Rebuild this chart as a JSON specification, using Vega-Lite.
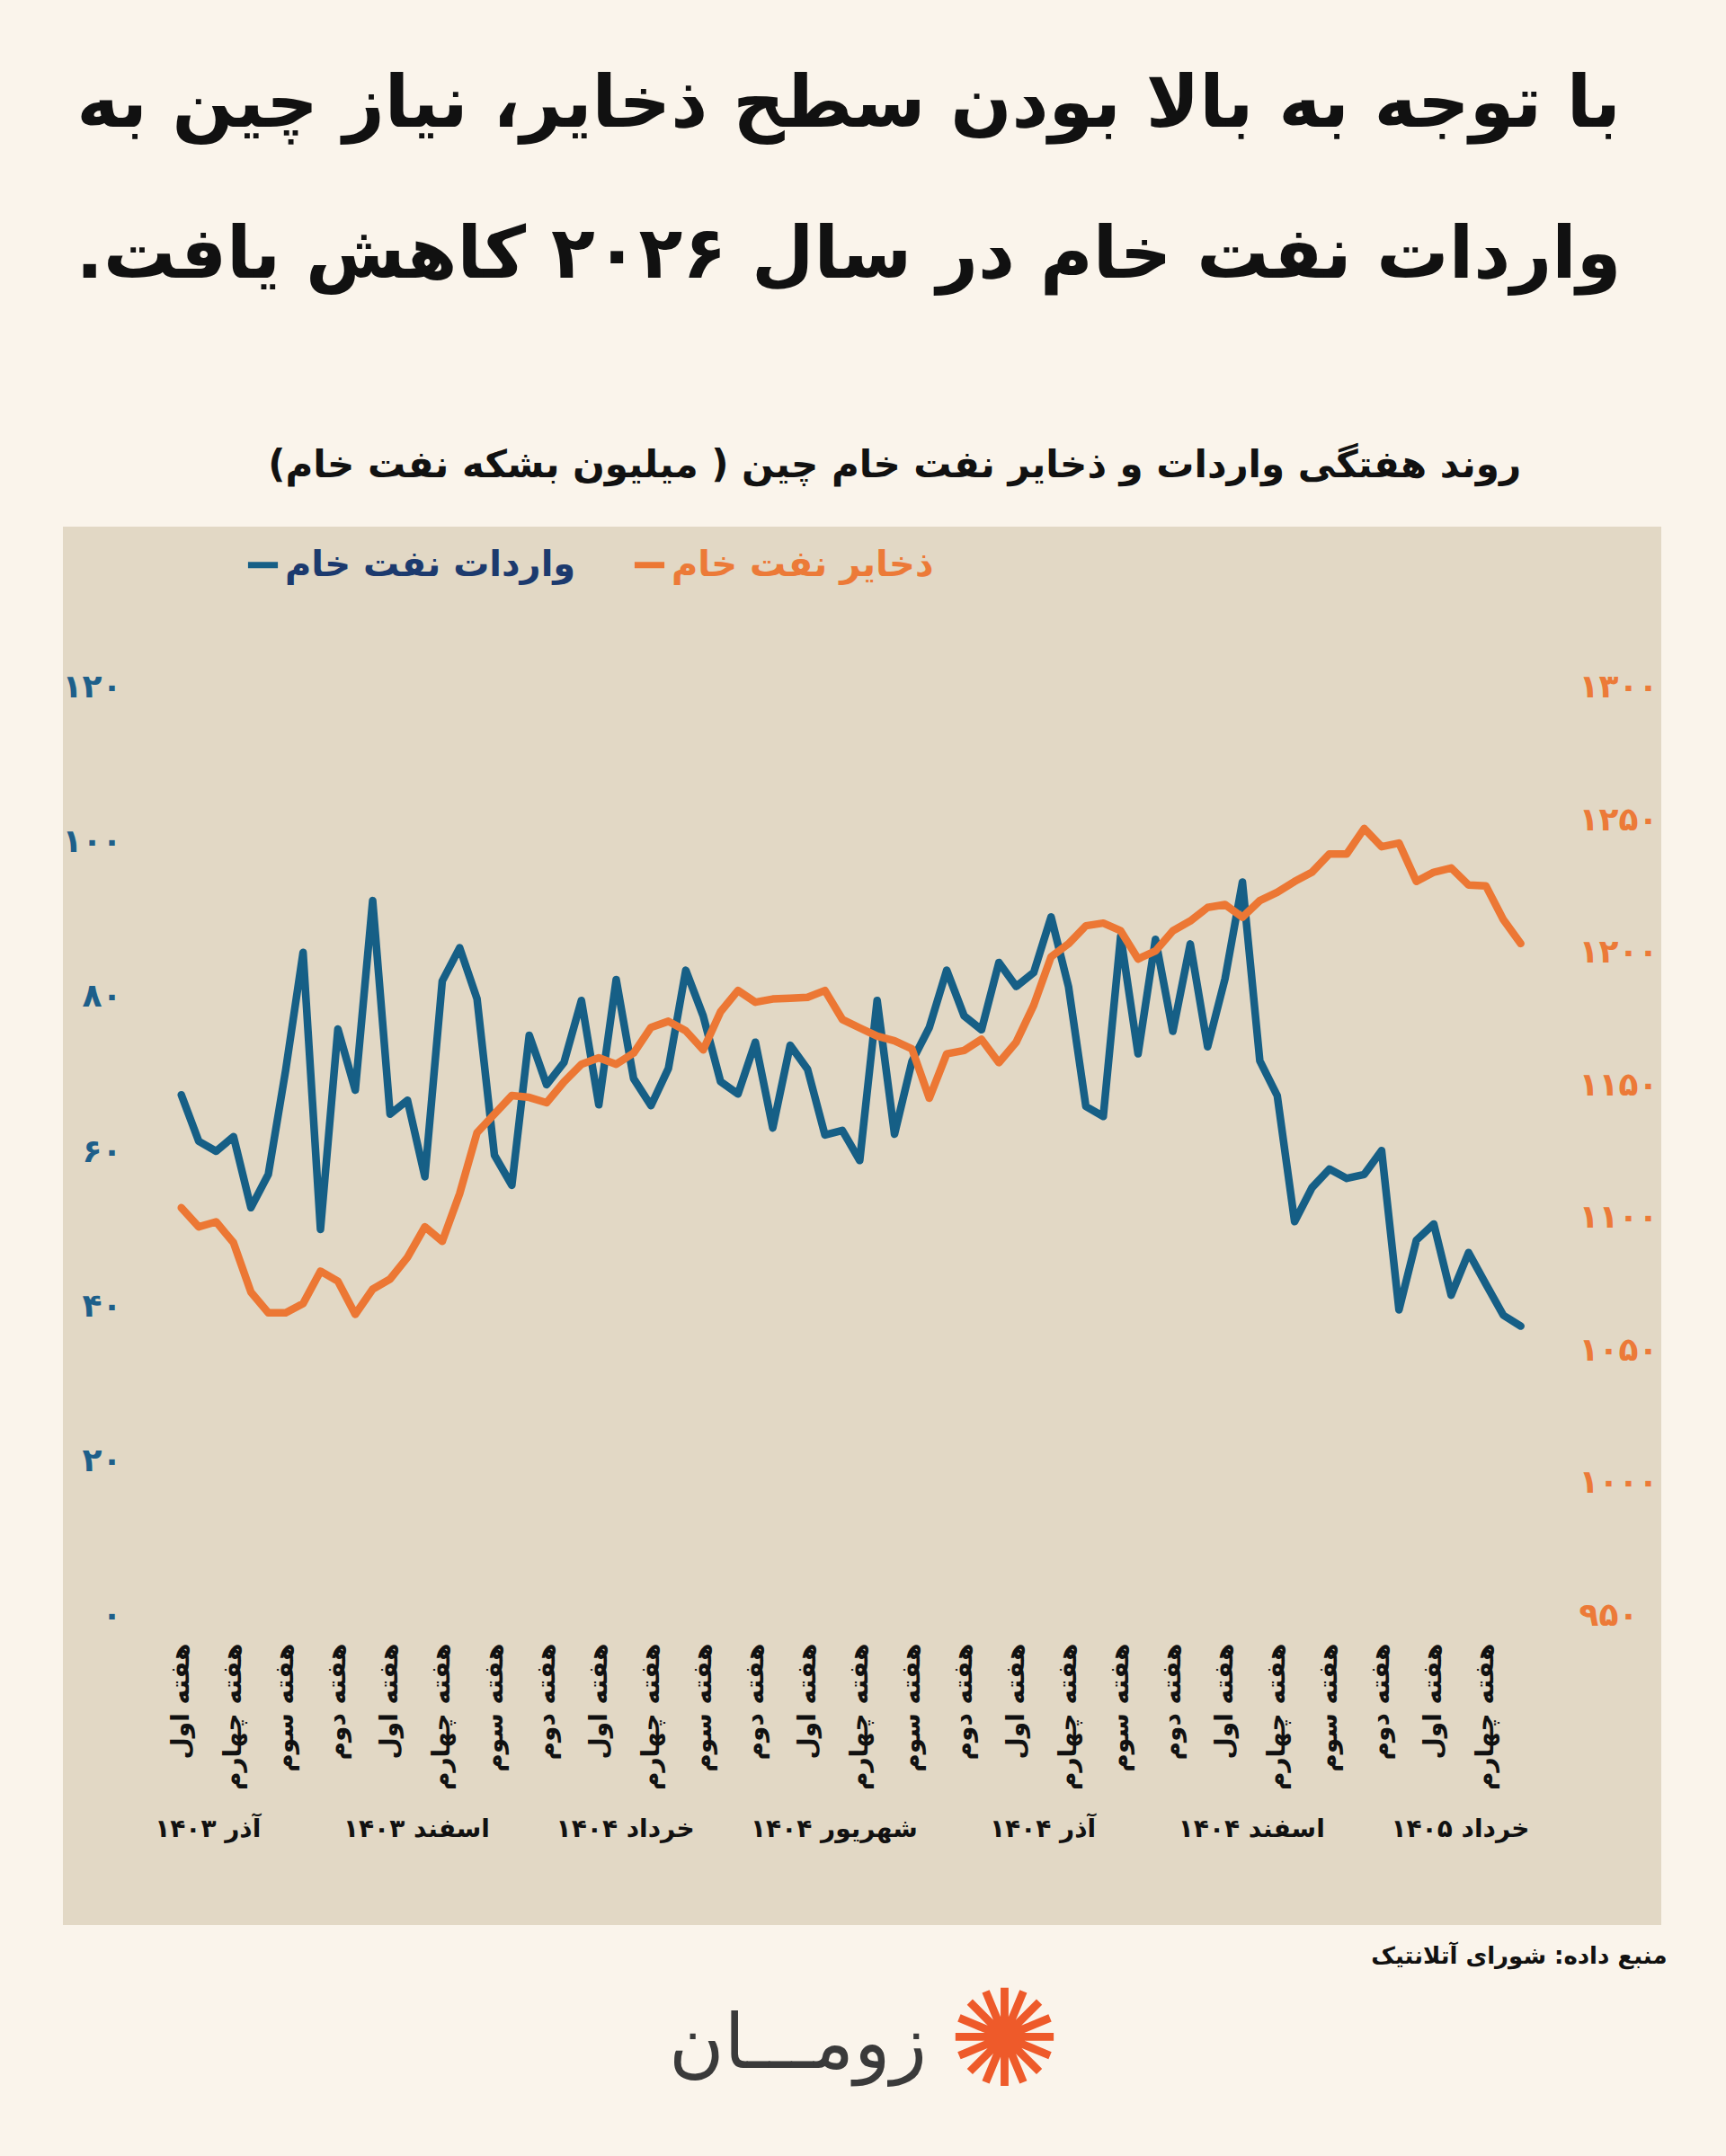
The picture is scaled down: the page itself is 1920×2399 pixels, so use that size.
{
  "$schema": "https://vega.github.io/schema/vega-lite/v6.json",
  "width": 1778,
  "height": 1556,
  "autosize": {"type": "none"},
  "padding": {"left": 70, "top": 586, "right": 72, "bottom": 257},
  "background": "#faf4eb",
  "config": {
    "view": {"fill": "#e2d8c5", "stroke": null},
    "font": "DejaVu Sans"
  },
  "title": {
    "text": ["با توجه به بالا بودن سطح ذخایر، نیاز چین به", "واردات نفت خام در سال ۲۰۲۶ کاهش یافت.\u200f"],
    "subtitle": "روند هفتگی واردات و ذخایر نفت خام چین ( میلیون بشکه نفت خام)\u00a0\u00a0\u00a0\u00a0\u00a0\u00a0\u00a0\u200f",
    "orient": "top",
    "anchor": "middle",
    "frame": "group",
    "dx": -15,
    "offset": 46,
    "font": "DejaVu Sans",
    "fontSize": 80,
    "fontWeight": "bold",
    "color": "#111111",
    "lineHeight": 168,
    "subtitleFont": "DejaVu Sans",
    "subtitleFontSize": 42,
    "subtitleFontWeight": "bold",
    "subtitleColor": "#111111",
    "subtitlePadding": 172
  },
  "data": {
    "values": [
      {"i": 0, "month": "آذر ۱۴۰۳", "week": "هفته اول", "imports": 67.3, "reserves": 1103.7},
      {"i": 1, "month": "آذر ۱۴۰۳", "week": "هفته دوم", "imports": 61.3, "reserves": 1096.5},
      {"i": 2, "month": "آذر ۱۴۰۳", "week": "هفته سوم", "imports": 60.0, "reserves": 1098.4},
      {"i": 3, "month": "آذر ۱۴۰۳", "week": "هفته چهارم", "imports": 61.9, "reserves": 1090.5},
      {"i": 4, "month": "دی ۱۴۰۳", "week": "هفته اول", "imports": 52.7, "reserves": 1071.9},
      {"i": 5, "month": "دی ۱۴۰۳", "week": "هفته دوم", "imports": 57.0, "reserves": 1064.1},
      {"i": 6, "month": "دی ۱۴۰۳", "week": "هفته سوم", "imports": 70.5, "reserves": 1064.1},
      {"i": 7, "month": "دی ۱۴۰۳", "week": "هفته چهارم", "imports": 85.7, "reserves": 1067.6},
      {"i": 8, "month": "بهمن ۱۴۰۳", "week": "هفته اول", "imports": 49.9, "reserves": 1079.8},
      {"i": 9, "month": "بهمن ۱۴۰۳", "week": "هفته دوم", "imports": 75.8, "reserves": 1076.0},
      {"i": 10, "month": "بهمن ۱۴۰۳", "week": "هفته سوم", "imports": 67.9, "reserves": 1063.5},
      {"i": 11, "month": "بهمن ۱۴۰۳", "week": "هفته چهارم", "imports": 92.4, "reserves": 1073.0},
      {"i": 12, "month": "اسفند ۱۴۰۳", "week": "هفته اول", "imports": 64.8, "reserves": 1076.8},
      {"i": 13, "month": "اسفند ۱۴۰۳", "week": "هفته دوم", "imports": 66.6, "reserves": 1085.0},
      {"i": 14, "month": "اسفند ۱۴۰۳", "week": "هفته سوم", "imports": 56.7, "reserves": 1096.5},
      {"i": 15, "month": "اسفند ۱۴۰۳", "week": "هفته چهارم", "imports": 82.0, "reserves": 1091.0},
      {"i": 16, "month": "فروردین ۱۴۰۴", "week": "هفته اول", "imports": 86.3, "reserves": 1109.0},
      {"i": 17, "month": "فروردین ۱۴۰۴", "week": "هفته دوم", "imports": 79.7, "reserves": 1132.0},
      {"i": 18, "month": "فروردین ۱۴۰۴", "week": "هفته سوم", "imports": 59.5, "reserves": 1139.0},
      {"i": 19, "month": "فروردین ۱۴۰۴", "week": "هفته چهارم", "imports": 55.6, "reserves": 1146.0},
      {"i": 20, "month": "اردیبهشت ۱۴۰۴", "week": "هفته اول", "imports": 75.0, "reserves": 1145.3},
      {"i": 21, "month": "اردیبهشت ۱۴۰۴", "week": "هفته دوم", "imports": 68.6, "reserves": 1143.3},
      {"i": 22, "month": "اردیبهشت ۱۴۰۴", "week": "هفته سوم", "imports": 71.5, "reserves": 1151.2},
      {"i": 23, "month": "اردیبهشت ۱۴۰۴", "week": "هفته چهارم", "imports": 79.5, "reserves": 1157.8},
      {"i": 24, "month": "خرداد ۱۴۰۴", "week": "هفته اول", "imports": 66.0, "reserves": 1160.2},
      {"i": 25, "month": "خرداد ۱۴۰۴", "week": "هفته دوم", "imports": 82.2, "reserves": 1157.8},
      {"i": 26, "month": "خرداد ۱۴۰۴", "week": "هفته سوم", "imports": 69.4, "reserves": 1162.0},
      {"i": 27, "month": "خرداد ۱۴۰۴", "week": "هفته چهارم", "imports": 65.9, "reserves": 1171.7},
      {"i": 28, "month": "تیر ۱۴۰۴", "week": "هفته اول", "imports": 70.7, "reserves": 1174.0},
      {"i": 29, "month": "تیر ۱۴۰۴", "week": "هفته دوم", "imports": 83.4, "reserves": 1170.4},
      {"i": 30, "month": "تیر ۱۴۰۴", "week": "هفته سوم", "imports": 77.5, "reserves": 1163.2},
      {"i": 31, "month": "تیر ۱۴۰۴", "week": "هفته چهارم", "imports": 69.0, "reserves": 1177.6},
      {"i": 32, "month": "مرداد ۱۴۰۴", "week": "هفته اول", "imports": 67.4, "reserves": 1185.6},
      {"i": 33, "month": "مرداد ۱۴۰۴", "week": "هفته دوم", "imports": 74.1, "reserves": 1181.2},
      {"i": 34, "month": "مرداد ۱۴۰۴", "week": "هفته سوم", "imports": 63.0, "reserves": 1182.4},
      {"i": 35, "month": "مرداد ۱۴۰۴", "week": "هفته چهارم", "imports": 73.7, "reserves": 1182.7},
      {"i": 36, "month": "شهریور ۱۴۰۴", "week": "هفته اول", "imports": 70.6, "reserves": 1183.0},
      {"i": 37, "month": "شهریور ۱۴۰۴", "week": "هفته دوم", "imports": 62.1, "reserves": 1185.6},
      {"i": 38, "month": "شهریور ۱۴۰۴", "week": "هفته سوم", "imports": 62.7, "reserves": 1174.7},
      {"i": 39, "month": "شهریور ۱۴۰۴", "week": "هفته چهارم", "imports": 58.8, "reserves": 1171.5},
      {"i": 40, "month": "مهر ۱۴۰۴", "week": "هفته اول", "imports": 79.5, "reserves": 1168.4},
      {"i": 41, "month": "مهر ۱۴۰۴", "week": "هفته دوم", "imports": 62.2, "reserves": 1166.6},
      {"i": 42, "month": "مهر ۱۴۰۴", "week": "هفته سوم", "imports": 71.6, "reserves": 1163.6},
      {"i": 43, "month": "مهر ۱۴۰۴", "week": "هفته چهارم", "imports": 76.0, "reserves": 1145.0},
      {"i": 44, "month": "آبان ۱۴۰۴", "week": "هفته اول", "imports": 83.4, "reserves": 1161.7},
      {"i": 45, "month": "آبان ۱۴۰۴", "week": "هفته دوم", "imports": 77.5, "reserves": 1163.0},
      {"i": 46, "month": "آبان ۱۴۰۴", "week": "هفته سوم", "imports": 75.7, "reserves": 1167.2},
      {"i": 47, "month": "آبان ۱۴۰۴", "week": "هفته چهارم", "imports": 84.4, "reserves": 1158.4},
      {"i": 48, "month": "آذر ۱۴۰۴", "week": "هفته اول", "imports": 81.3, "reserves": 1166.2},
      {"i": 49, "month": "آذر ۱۴۰۴", "week": "هفته دوم", "imports": 83.1, "reserves": 1180.0},
      {"i": 50, "month": "آذر ۱۴۰۴", "week": "هفته سوم", "imports": 90.3, "reserves": 1198.3},
      {"i": 51, "month": "آذر ۱۴۰۴", "week": "هفته چهارم", "imports": 81.3, "reserves": 1203.2},
      {"i": 52, "month": "دی ۱۴۰۴", "week": "هفته اول", "imports": 65.8, "reserves": 1210.0},
      {"i": 53, "month": "دی ۱۴۰۴", "week": "هفته دوم", "imports": 64.5, "reserves": 1211.0},
      {"i": 54, "month": "دی ۱۴۰۴", "week": "هفته سوم", "imports": 87.8, "reserves": 1208.1},
      {"i": 55, "month": "دی ۱۴۰۴", "week": "هفته چهارم", "imports": 72.6, "reserves": 1197.5},
      {"i": 56, "month": "بهمن ۱۴۰۴", "week": "هفته اول", "imports": 87.4, "reserves": 1200.5},
      {"i": 57, "month": "بهمن ۱۴۰۴", "week": "هفته دوم", "imports": 75.5, "reserves": 1208.1},
      {"i": 58, "month": "بهمن ۱۴۰۴", "week": "هفته سوم", "imports": 86.8, "reserves": 1211.8},
      {"i": 59, "month": "بهمن ۱۴۰۴", "week": "هفته چهارم", "imports": 73.5, "reserves": 1216.9},
      {"i": 60, "month": "اسفند ۱۴۰۴", "week": "هفته اول", "imports": 82.3, "reserves": 1218.0},
      {"i": 61, "month": "اسفند ۱۴۰۴", "week": "هفته دوم", "imports": 94.8, "reserves": 1213.2},
      {"i": 62, "month": "اسفند ۱۴۰۴", "week": "هفته سوم", "imports": 71.7, "reserves": 1219.5},
      {"i": 63, "month": "اسفند ۱۴۰۴", "week": "هفته چهارم", "imports": 67.2, "reserves": 1222.6},
      {"i": 64, "month": "فروردین ۱۴۰۵", "week": "هفته اول", "imports": 50.9, "reserves": 1226.7},
      {"i": 65, "month": "فروردین ۱۴۰۵", "week": "هفته دوم", "imports": 55.3, "reserves": 1230.2},
      {"i": 66, "month": "فروردین ۱۴۰۵", "week": "هفته سوم", "imports": 57.7, "reserves": 1237.1},
      {"i": 67, "month": "فروردین ۱۴۰۵", "week": "هفته چهارم", "imports": 56.5, "reserves": 1237.1},
      {"i": 68, "month": "اردیبهشت ۱۴۰۵", "week": "هفته اول", "imports": 57.0, "reserves": 1246.7},
      {"i": 69, "month": "اردیبهشت ۱۴۰۵", "week": "هفته دوم", "imports": 60.1, "reserves": 1239.8},
      {"i": 70, "month": "اردیبهشت ۱۴۰۵", "week": "هفته سوم", "imports": 39.5, "reserves": 1241.2},
      {"i": 71, "month": "اردیبهشت ۱۴۰۵", "week": "هفته چهارم", "imports": 48.5, "reserves": 1226.7},
      {"i": 72, "month": "خرداد ۱۴۰۵", "week": "هفته اول", "imports": 50.6, "reserves": 1230.2},
      {"i": 73, "month": "خرداد ۱۴۰۵", "week": "هفته دوم", "imports": 41.4, "reserves": 1231.8},
      {"i": 74, "month": "خرداد ۱۴۰۵", "week": "هفته سوم", "imports": 46.9, "reserves": 1225.4},
      {"i": 75, "month": "خرداد ۱۴۰۵", "week": "هفته چهارم", "imports": 42.8, "reserves": 1225.0},
      {"i": 76, "month": "تیر ۱۴۰۵", "week": "هفته اول", "imports": 38.8, "reserves": 1212.3},
      {"i": 77, "month": "تیر ۱۴۰۵", "week": "هفته دوم", "imports": 37.4, "reserves": 1203.3}
    ]
  },
  "layer": [
    {
      "mark": {"type": "line", "strokeWidth": 8.5, "strokeCap": "round", "strokeJoin": "round"},
      "encoding": {
        "x": {
          "field": "i",
          "type": "quantitative",
          "scale": {"domain": [-6.806, 85.078], "nice": false, "zero": false},
          "axis": {
            "orient": "bottom",
            "offset": -314,
            "values": [0, 3, 6, 9, 12, 15, 18, 21, 24, 27, 30, 33, 36, 39, 42, 45, 48, 51, 54, 57, 60, 63, 66, 69, 72, 75],
            "labelExpr": "'هفته ' + ['اول', 'دوم', 'سوم', 'چهارم'][datum.value % 4]",
            "labelAngle": 270,
            "labelFont": "DejaVu Sans",
            "labelFontSize": 28,
            "labelFontWeight": "bold",
            "labelColor": "#111111",
            "labelPadding": 0,
            "labelOverlap": false,
            "labelFlush": false,
            "labelLimit": 400,
            "ticks": false,
            "tickSize": 0,
            "domain": false,
            "grid": false,
            "title": "منبع داده: شورای آتلانتیک",
            "titleX": 1784,
            "titleY": 348,
            "titleAlign": "right",
            "titleBaseline": "middle",
            "titleFont": "DejaVu Sans",
            "titleFontSize": 26,
            "titleFontWeight": "bold",
            "titleColor": "#111111",
            "titleLimit": 1000
          }
        },
        "y": {
          "field": "imports",
          "type": "quantitative",
          "scale": {"domain": [-40.02, 140.74], "nice": false, "zero": false},
          "axis": {
            "orient": "left",
            "offset": -65,
            "values": [0, 20, 40, 60, 80, 100, 120],
            "labelExpr": "['۰', '۲۰', '۴۰', '۶۰', '۸۰', '۱۰۰', '۱۲۰'][datum.value / 20]",
            "labelFont": "DejaVu Sans",
            "labelFontSize": 36,
            "labelFontWeight": "bold",
            "labelColor": "#1d5f8a",
            "labelPadding": 0,
            "ticks": false,
            "tickSize": 0,
            "domain": false,
            "grid": false,
            "title": null
          }
        },
        "color": {
          "datum": "واردات نفت خام",
          "type": "nominal",
          "scale": {"domain": ["واردات نفت خام", "ذخایر نفت خام"], "range": ["#165f86", "#ec7734"]},
          "legend": {
            "orient": "none",
            "legendX": 202,
            "legendY": 22,
            "direction": "horizontal",
            "title": null,
            "symbolType": "stroke",
            "symbolStrokeWidth": 7,
            "symbolSize": 1100,
            "symbolOffset": 0,
            "labelFont": "DejaVu Sans",
            "labelFontSize": 40,
            "labelFontWeight": "bold",
            "labelLimit": 600,
            "labelOffset": 4,
            "columnPadding": 50,
            "padding": 0,
            "encode": {
              "labels": {
                "update": {
                  "fill": {"signal": "datum.value === 'ذخایر نفت خام' ? '#ec7a38' : '#1c3a6e'"}
                }
              }
            }
          }
        }
      }
    },
    {
      "mark": {"type": "line", "strokeWidth": 8.5, "strokeCap": "round", "strokeJoin": "round"},
      "encoding": {
        "x": {
          "field": "i",
          "type": "quantitative",
          "axis": {
            "orient": "bottom",
            "offset": -107,
            "values": [1.5, 13.5, 25.5, 37.5, 49.5, 61.5, 73.5],
            "labelExpr": "['آذر ۱۴۰۳', 'اسفند ۱۴۰۳', 'خرداد ۱۴۰۴', 'شهریور ۱۴۰۴', 'آذر ۱۴۰۴', 'اسفند ۱۴۰۴', 'خرداد ۱۴۰۵'][(datum.value - 1.5) / 12]",
            "labelAngle": 0,
            "labelBaseline": "middle",
            "labelFont": "DejaVu Sans",
            "labelFontSize": 28,
            "labelFontWeight": "bold",
            "labelColor": "#111111",
            "labelPadding": 0,
            "labelOverlap": false,
            "labelFlush": false,
            "labelLimit": 400,
            "ticks": false,
            "tickSize": 0,
            "domain": false,
            "grid": false,
            "title": "زومـــان",
            "titleX": 817,
            "titleY": 240,
            "titleAlign": "center",
            "titleBaseline": "middle",
            "titleFont": "DejaVu Sans",
            "titleFontSize": 84,
            "titleFontWeight": "normal",
            "titleColor": "#3a3a3a",
            "titleLimit": 1000
          }
        },
        "y": {
          "field": "reserves",
          "type": "quantitative",
          "scale": {"domain": [833.27, 1360.48], "nice": false, "zero": false},
          "axis": {
            "orient": "right",
            "offset": -92,
            "values": [950, 1000, 1050, 1100, 1150, 1200, 1250, 1300],
            "labelExpr": "['۹۵۰', '۱۰۰۰', '۱۰۵۰', '۱۱۰۰', '۱۱۵۰', '۱۲۰۰', '۱۲۵۰', '۱۳۰۰'][(datum.value - 950) / 50]",
            "labelFont": "DejaVu Sans",
            "labelFontSize": 36,
            "labelFontWeight": "bold",
            "labelColor": "#ec7a38",
            "labelPadding": 0,
            "ticks": false,
            "tickSize": 0,
            "domain": false,
            "grid": false,
            "title": "✺",
            "titleX": -639,
            "titleY": 1689,
            "titleAngle": 0,
            "titleAlign": "center",
            "titleBaseline": "middle",
            "titleFont": "DejaVu Sans",
            "titleFontSize": 150,
            "titleFontWeight": "normal",
            "titleColor": "#ee5a2a"
          }
        },
        "color": {"datum": "ذخایر نفت خام", "type": "nominal"}
      }
    }
  ],
  "resolve": {
    "scale": {"y": "independent"},
    "axis": {"x": "independent", "y": "independent"}
  }
}
